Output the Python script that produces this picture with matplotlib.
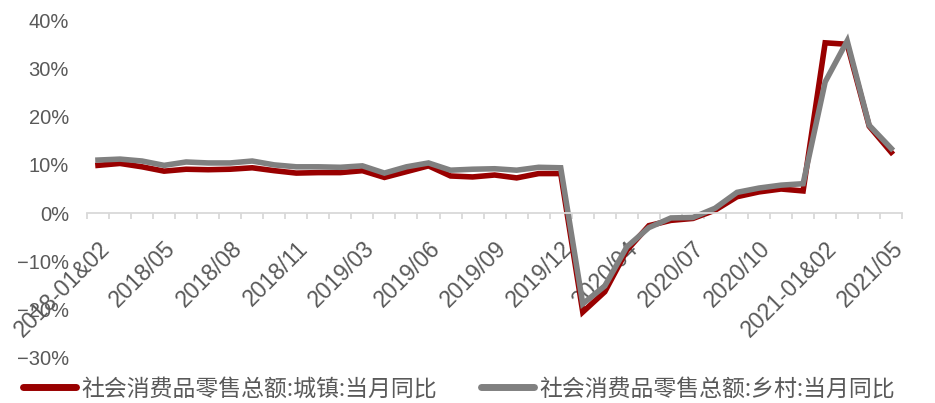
import matplotlib
matplotlib.use("Agg")
import matplotlib.pyplot as plt
from matplotlib.ticker import FixedLocator, PercentFormatter

categories = [
    "2018-01&02", "2018/03", "2018/04", "2018/05", "2018/06", "2018/07", "2018/08",
    "2018/09", "2018/10", "2018/11", "2018/12",
    "2019-01&02", "2019/03", "2019/04", "2019/05", "2019/06", "2019/07", "2019/08",
    "2019/09", "2019/10", "2019/11", "2019/12",
    "2020-01&02", "2020/03", "2020/04", "2020/05", "2020/06", "2020/07", "2020/08",
    "2020/09", "2020/10", "2020/11", "2020/12",
    "2021-01&02", "2021/03", "2021/04", "2021/05",
]
urban = [9.9, 10.3, 9.6, 8.7, 9.1, 9.0, 9.1, 9.4, 8.8, 8.3, 8.4,
         8.4, 8.8, 7.4, 8.6, 9.8, 7.7, 7.5, 7.9, 7.3, 8.2, 8.2,
         -20.5, -16.3, -7.7, -2.6, -1.5, -1.1, 0.6, 3.4, 4.4, 5.0, 4.6,
         35.3, 35.0, 18.0, 12.6]
rural = [11.0, 11.2, 10.8, 9.9, 10.6, 10.4, 10.4, 10.8, 10.0, 9.6, 9.6,
         9.5, 9.8, 8.3, 9.6, 10.4, 8.9, 9.1, 9.2, 8.9, 9.5, 9.4,
         -18.8, -15.1, -7.0, -3.0, -1.0, -0.9, 1.0, 4.3, 5.2, 5.8, 6.1,
         27.2, 35.7, 18.2, 13.4]
series_names = ["社会消费品零售总额:城镇:当月同比", "社会消费品零售总额:乡村:当月同比"]
y_ticks = [-30, -20, -10, 0, 10, 20, 30, 40]

RED = "#990000"
GRAY = "#808080"
TXT = "#595959"
AXC = "#D9D9D9"

fig = plt.figure(figsize=(9.35, 4.03), dpi=100)
ax = fig.add_axes([0.093, 0.112, 0.872, 0.838])

x = list(range(len(categories)))
ax.plot(x, urban, color=RED, lw=4.0, solid_joinstyle="miter", label=series_names[0])
ax.plot(x, rural, color=GRAY, lw=4.0, solid_joinstyle="miter", label=series_names[1])

ax.set_xlim(-0.5, len(categories) - 0.5)
ax.set_ylim(-30, 40)
ax.set_yticks(y_ticks)
ax.yaxis.set_major_formatter(PercentFormatter(decimals=0))
ax.tick_params(axis="y", length=0, pad=13, labelsize=14.5, labelcolor=TXT)
for t in ax.get_yticklabels():
    t.set_fontfamily("Liberation Sans")

for s in ["left", "right", "top"]:
    ax.spines[s].set_visible(False)
ax.spines["bottom"].set_position(("data", 0))
ax.spines["bottom"].set_color(AXC)
ax.spines["bottom"].set_linewidth(1.3)

major = x[::3]
ax.xaxis.set_major_locator(FixedLocator(major))
ax.set_xticklabels(categories[::3])
ax.xaxis.set_minor_locator(FixedLocator([i - 0.5 for i in range(len(categories) + 1)]))
ax.tick_params(axis="x", which="major", length=0, pad=17, labelsize=16.5, labelcolor=TXT)
ax.tick_params(axis="x", which="minor", length=4.5, width=1.3, color=AXC, direction="out")
for t in ax.get_xticklabels():
    t.set_fontfamily("Liberation Sans")
    t.set_rotation(45)
    t.set_ha("right")
    t.set_va("top")
    t.set_rotation_mode("anchor")

leg = fig.legend(loc="lower left", bbox_to_anchor=(0.003, -0.045), ncol=2, frameon=False,
                 handlelength=2.3, handletextpad=0.25, columnspacing=1.9,
                 prop={"family": ["Noto Sans CJK SC", "DejaVu Sans"], "size": 16.5})
for t in leg.get_texts():
    t.set_color(TXT)
for h in leg.legend_handles:
    h.set_linewidth(5.0)
    h.set_solid_capstyle("round")

fig.savefig("out.png", dpi=100)
